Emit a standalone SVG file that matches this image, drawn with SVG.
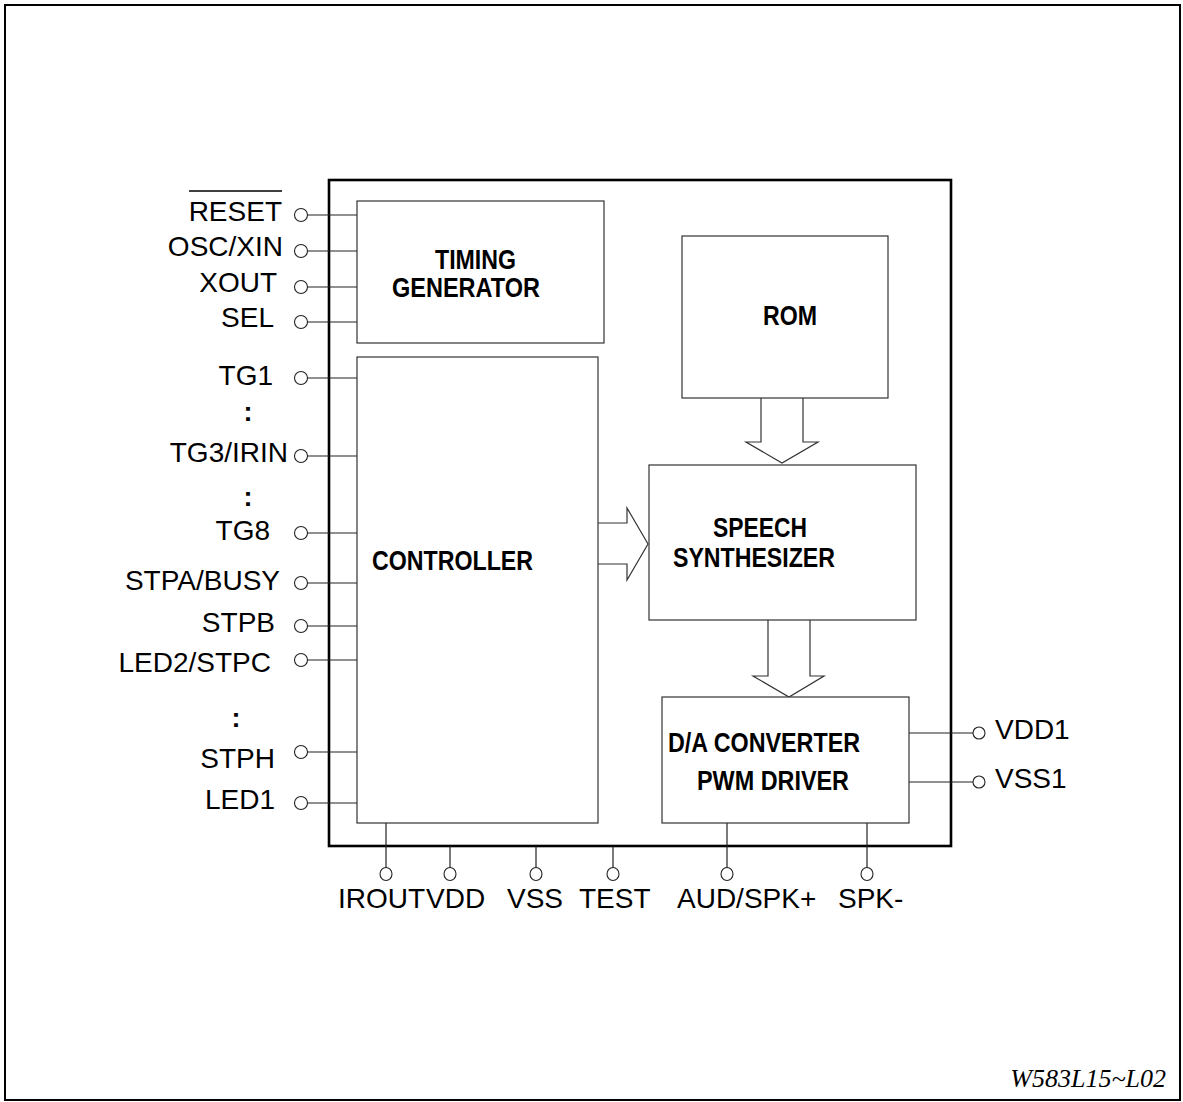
<svg xmlns="http://www.w3.org/2000/svg" width="1183" height="1102" viewBox="0 0 1183 1102">
<style>
.pin{font-family:"Liberation Sans",Arial,sans-serif;font-size:28px;fill:#000}
.lbl{font-family:"Liberation Sans",Arial,sans-serif;font-size:27px;font-weight:bold;fill:#000}
.box{fill:#fff;stroke:#333;stroke-width:1.2}
.wire{stroke:#222;stroke-width:1.2;fill:none}
.pad{fill:#fff;stroke:#222;stroke-width:1.1}
.arrow{fill:none;stroke:#333;stroke-width:1.2}
</style>
<rect x="0" y="0" width="1183" height="1102" fill="#fff"/>
<rect x="5" y="5" width="1175" height="1095" fill="none" stroke="#000" stroke-width="2"/>
<g id="chip">
<rect x="329" y="180" width="622" height="666" fill="none" stroke="#000" stroke-width="2.6"/>
</g>
<g id="connectors">
<path class="wire" d="M307,215H357M307,251H357M307,287H357M307,322H357M307,378H357M307,456H357M307,533H357M307,583H357M307,626H357M307,660H357M307,752H357M307,803H357"/>
<path class="wire" d="M386,823V868M450,846V868M536,846V868M613,846V868M727,823V868M867,823V868"/>
<path class="wire" d="M909,733H973M909,782H973"/>
<path class="arrow" d="M761,398V442H746L782,463L818,442H803V398"/>
<path class="arrow" d="M598,523H627V508L648,544L627,580V564H598"/>
<path class="arrow" d="M768,620V676H753L789,697L824,676H810V620"/>
</g>
<g id="timing">
<rect class="box" x="357" y="201" width="247" height="142"/>
<text class="lbl" x="435" y="269" textLength="81" lengthAdjust="spacingAndGlyphs">TIMING</text>
<text class="lbl" x="392" y="297" textLength="148" lengthAdjust="spacingAndGlyphs">GENERATOR</text>
</g>
<g id="controller">
<rect class="box" x="357" y="357" width="241" height="466"/>
<text class="lbl" x="372" y="570" textLength="161" lengthAdjust="spacingAndGlyphs">CONTROLLER</text>
</g>
<g id="rom">
<rect class="box" x="682" y="236" width="206" height="162"/>
<text class="lbl" x="763" y="325" textLength="54" lengthAdjust="spacingAndGlyphs">ROM</text>
</g>
<g id="speech">
<rect class="box" x="649" y="465" width="267" height="155"/>
<text class="lbl" x="713" y="537" textLength="94" lengthAdjust="spacingAndGlyphs">SPEECH</text>
<text class="lbl" x="673" y="567" textLength="162" lengthAdjust="spacingAndGlyphs">SYNTHESIZER</text>
</g>
<g id="dac">
<rect class="box" x="662" y="697" width="247" height="126"/>
<text class="lbl" x="668" y="752" textLength="192" lengthAdjust="spacingAndGlyphs">D/A CONVERTER</text>
<text class="lbl" x="697" y="790" textLength="152" lengthAdjust="spacingAndGlyphs">PWM DRIVER</text>
</g>
<g id="left-pins">
<circle class="pad" cx="301" cy="215" r="6.5"/>
<circle class="pad" cx="301" cy="251" r="6.5"/>
<circle class="pad" cx="301" cy="287" r="6.5"/>
<circle class="pad" cx="301" cy="322" r="6.5"/>
<circle class="pad" cx="301" cy="378" r="6.5"/>
<circle class="pad" cx="301" cy="456" r="6.5"/>
<circle class="pad" cx="301" cy="533" r="6.5"/>
<circle class="pad" cx="301" cy="583" r="6.5"/>
<circle class="pad" cx="301" cy="626" r="6.5"/>
<circle class="pad" cx="301" cy="660" r="6.5"/>
<circle class="pad" cx="301" cy="752" r="6.5"/>
<circle class="pad" cx="301" cy="803" r="6.5"/>
<text class="pin" x="282" y="221" text-anchor="end">RESET</text>
<line x1="189" y1="191" x2="282" y2="191" stroke="#000" stroke-width="1.5"/>
<text class="pin" x="283" y="256" text-anchor="end">OSC/XIN</text>
<text class="pin" x="277" y="292" text-anchor="end">XOUT</text>
<text class="pin" x="274" y="327" text-anchor="end">SEL</text>
<text class="pin" x="273" y="385" text-anchor="end">TG1</text>
<text class="lbl" x="248" y="421" text-anchor="middle">:</text>
<text class="pin" x="288" y="462" text-anchor="end">TG3/IRIN</text>
<text class="lbl" x="248" y="506" text-anchor="middle">:</text>
<text class="pin" x="270" y="540" text-anchor="end">TG8</text>
<text class="pin" x="280" y="590" text-anchor="end">STPA/BUSY</text>
<text class="pin" x="275" y="632" text-anchor="end">STPB</text>
<text class="pin" x="271" y="672" text-anchor="end">LED2/STPC</text>
<text class="lbl" x="236" y="727" text-anchor="middle">:</text>
<text class="pin" x="275" y="768" text-anchor="end">STPH</text>
<text class="pin" x="275" y="809" text-anchor="end">LED1</text>
</g>
<g id="bottom-pins">
<ellipse class="pad" cx="386" cy="874" rx="6" ry="6.5"/>
<ellipse class="pad" cx="450" cy="874" rx="6" ry="6.5"/>
<ellipse class="pad" cx="536" cy="874" rx="6" ry="6.5"/>
<ellipse class="pad" cx="613" cy="874" rx="6" ry="6.5"/>
<ellipse class="pad" cx="727" cy="874" rx="6" ry="6.5"/>
<ellipse class="pad" cx="867" cy="874" rx="6" ry="6.5"/>
<text class="pin" x="338" y="908">IROUT</text>
<text class="pin" x="426" y="908">VDD</text>
<text class="pin" x="507" y="908">VSS</text>
<text class="pin" x="579" y="908">TEST</text>
<text class="pin" x="677" y="908">AUD/SPK+</text>
<text class="pin" x="838" y="908">SPK-</text>
</g>
<g id="right-pins">
<circle class="pad" cx="979" cy="733" r="6"/>
<circle class="pad" cx="979" cy="782" r="6"/>
<text class="pin" x="995" y="739">VDD1</text>
<text class="pin" x="995" y="788">VSS1</text>
</g>
<text x="1166" y="1087" text-anchor="end" font-family="Liberation Serif,'Times New Roman',serif" font-style="italic" font-size="26">W583L15~L02</text>
</svg>
